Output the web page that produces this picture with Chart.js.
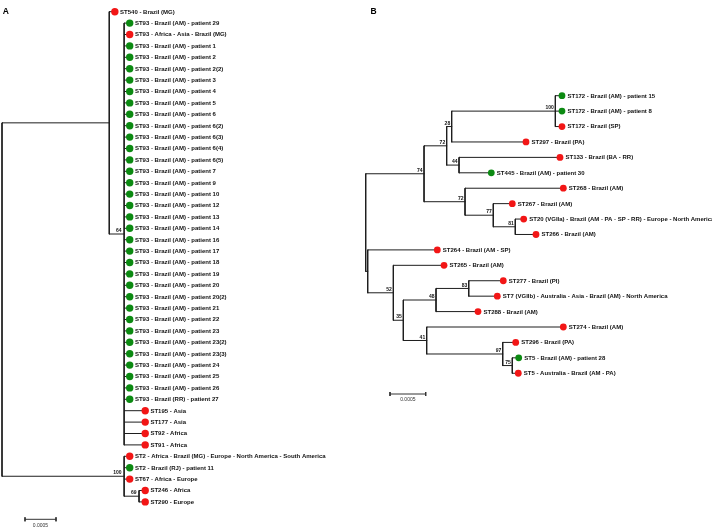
<!DOCTYPE html>
<html>
<head>
<meta charset="utf-8">
<script src="https://cdn.jsdelivr.net/npm/chart.js@4.4.1/dist/chart.umd.min.js"></script>
<style>
  html, body { margin: 0; padding: 0; background: #ffffff; }
  #wrap { position: relative; width: 712px; height: 532px; overflow: hidden; background: #fff; }
  canvas { position: absolute; top: 0; }
</style>
</head>
<body>
<div id="wrap">
  <canvas id="treeA" width="356" height="532" style="left:0px"></canvas>
  <canvas id="treeB" width="356" height="532" style="left:356px"></canvas>
</div>
<script>
// ---------------- DATA : tree A ----------------
const treeALabels = [
  'ST540 - Brazil (MG)',
  'ST93 - Brazil (AM) - patient 29',
  'ST93 - Africa - Asia - Brazil (MG)',
  'ST93 - Brazil (AM) - patient 1',
  'ST93 - Brazil (AM) - patient 2',
  'ST93 - Brazil (AM) - patient 2(2)',
  'ST93 - Brazil (AM) - patient 3',
  'ST93 - Brazil (AM) - patient 4',
  'ST93 - Brazil (AM) - patient 5',
  'ST93 - Brazil (AM) - patient 6',
  'ST93 - Brazil (AM) - patient 6(2)',
  'ST93 - Brazil (AM) - patient 6(3)',
  'ST93 - Brazil (AM) - patient 6(4)',
  'ST93 - Brazil (AM) - patient 6(5)',
  'ST93 - Brazil (AM) - patient 7',
  'ST93 - Brazil (AM) - patient 9',
  'ST93 - Brazil (AM) - patient 10',
  'ST93 - Brazil (AM) - patient 12',
  'ST93 - Brazil (AM) - patient 13',
  'ST93 - Brazil (AM) - patient 14',
  'ST93 - Brazil (AM) - patient 16',
  'ST93 - Brazil (AM) - patient 17',
  'ST93 - Brazil (AM) - patient 18',
  'ST93 - Brazil (AM) - patient 19',
  'ST93 - Brazil (AM) - patient 20',
  'ST93 - Brazil (AM) - patient 20(2)',
  'ST93 - Brazil (AM) - patient 21',
  'ST93 - Brazil (AM) - patient 22',
  'ST93 - Brazil (AM) - patient 23',
  'ST93 - Brazil (AM) - patient 23(2)',
  'ST93 - Brazil (AM) - patient 23(3)',
  'ST93 - Brazil (AM) - patient 24',
  'ST93 - Brazil (AM) - patient 25',
  'ST93 - Brazil (AM) - patient 26',
  'ST93 - Brazil (RR) - patient 27',
  'ST195 - Asia',
  'ST177 - Asia',
  'ST92 - Africa',
  'ST91 - Africa',
  'ST2 - Africa - Brazil (MG) - Europe - North America - South America',
  'ST2 - Brazil (RJ) - patient 11',
  'ST67 - Africa - Europe',
  'ST246 - Africa',
  'ST290 - Europe'
];
// 'P' = patient isolate (green), 'R' = reference isolate (red)
const treeAGroups = [
  'R','P','R','P','P','P','P','P','P','P',
  'P','P','P','P','P','P','P','P','P','P',
  'P','P','P','P','P','P','P','P','P','P',
  'P','P','P','P','P','R','R','R','R','R',
  'P','R','R','R'
];
// cumulative branch length (substitutions/site) from root to each tip
const treeALeafDepth = [
  0.00182,                                                              // 0
  0.00206,0.00206,0.00206,0.00206,0.00206,0.00206,0.00206,0.00206,0.00206,0.00206, // 1-10
  0.00206,0.00206,0.00206,0.00206,0.00206,0.00206,0.00206,0.00206,0.00206,0.00206, // 11-20
  0.00206,0.00206,0.00206,0.00206,0.00206,0.00206,0.00206,0.00206,0.00206,0.00206, // 21-30
  0.00206,0.00206,0.00206,0.00206,                                      // 31-34
  0.00231,0.00231,0.00231,0.00231,                                      // 35-38
  0.00206,0.00206,0.00206,                                              // 39-41
  0.00231,0.00231                                                       // 42-43
];
// internal nodes: depth, children (numbers = tips, 'nK' = internal node K), bootstrap support
const treeANodeDepth = [0, 0.00173, 0.00197, 0.00197, 0.00221];
const treeANodeChildren = [
  ['n1','n2'],
  [0,'n3'],
  [39,40,41,'n4'],
  [1,2,3,4,5,6,7,8,9,10,11,12,13,14,15,16,17,18,19,20,21,22,23,24,25,26,27,28,29,30,31,32,33,34,35,36,37,38],
  [42,43]
];
const treeASupport = [null, null, 100, 64, 69];

// ---------------- DATA : tree B ----------------
const treeBLabels = [
  'ST172 - Brazil (AM) - patient 15',
  'ST172 - Brazil (AM) - patient 8',
  'ST172 - Brazil (SP)',
  'ST297 - Brazil (PA)',
  'ST133 - Brazil (BA - RR)',
  'ST445 - Brazil (AM) - patient 30',
  'ST268 - Brazil (AM)',
  'ST267 - Brazil (AM)',
  'ST20 (VGIIa) - Brazil (AM - PA - SP - RR) - Europe - North America',
  'ST266 - Brazil (AM)',
  'ST264 - Brazil (AM - SP)',
  'ST265 - Brazil (AM)',
  'ST277 - Brazil (PI)',
  'ST7 (VGIIb) - Australia - Asia - Brazil (AM) - North America',
  'ST288 - Brazil (AM)',
  'ST274 - Brazil (AM)',
  'ST296 - Brazil (PA)',
  'ST5 - Brazil (AM) - patient 28',
  'ST5 - Australia - Brazil (AM - PA)'
];
const treeBGroups = ['P','P','R','R','R','P','R','R','R','R','R','R','R','R','R','R','R','P','R'];
const treeBLeafDepth = [
  0.002749, 0.002749, 0.002749, 0.002245, 0.002721, 0.001759, 0.002768,
  0.002053, 0.002213, 0.002385, 0.001003, 0.001097, 0.001927, 0.001843,
  0.001573, 0.002768, 0.002101, 0.002143, 0.002137
];
const treeBNodeDepth = [
  0, 0.000817, 0.001134, 0.001204, 0.002656, 0.001307, 0.001391, 0.001787, 0.002095,
  0.000028, 0.000387, 0.000527, 0.000985, 0.001443, 0.000854, 0.001919, 0.002053
];
const treeBNodeChildren = [
  ['n1','n9'],
  ['n2','n6'],
  ['n3','n5'],
  ['n4',3],
  [0,1,2],
  [4,5],
  [6,'n7'],
  [7,'n8'],
  [8,9],
  [10,'n10'],
  [11,'n11'],
  ['n12','n14'],
  ['n13',14],
  [12,13],
  [15,'n15'],
  [16,'n16'],
  [17,18]
];
const treeBSupport = [null,74,72,28,100,44,72,77,81,null,52,35,48,83,41,97,75];

const scaleBarLength = 0.0005;
const scaleBarLabel = '0.0005';
const panelLetters = ['A', 'B'];

// ---------------- LAYOUT / STYLE ----------------
const FONT = '"Liberation Sans", Arial, Helvetica, sans-serif';
const COLORS = { P: '#0c8a12', R: '#f21616', line: '#1e1e1e', text: '#111111' };
const CANVAS_W = 356, CANVAS_H = 532;
const layoutA = { rootPx: 2, pxPerUnit: 62000, firstLeafPx: 11.7, leafStepPx: 11.4,
  dotRadius: 3.7, labelGap: 5.2, supportDx: 2.5, barLeftPx: 25, barYPx: 519.3,
  letterX: 2.8, letterY: 12 };
const layoutB = { rootPx: 9.7, pxPerUnit: 71400, firstLeafPx: 95.7, leafStepPx: 15.42,
  dotRadius: 3.4, labelGap: 5.5, supportDx: 1.5, barLeftPx: 34, barYPx: 394,
  letterX: 14.5, letterY: 12 };

function buildTree(leafDepth, nodeDepth, nodeChildren) {
  const nodeY = [];
  const yOf = c => {
    if (typeof c === 'number') return c;
    const j = +c.slice(1);
    if (nodeY[j] === undefined) {
      const ch = nodeChildren[j];
      nodeY[j] = (yOf(ch[0]) + yOf(ch[ch.length - 1])) / 2;
    }
    return nodeY[j];
  };
  const xOf = c => typeof c === 'number' ? leafDepth[c] : nodeDepth[+c.slice(1)];
  const segs = [];
  nodeChildren.forEach((ch, j) => {
    const x = nodeDepth[j];
    segs.push([{ x, y: yOf(ch[0]) }, { x, y: yOf(ch[ch.length - 1]) }]);
    ch.forEach(c => segs.push([{ x, y: yOf(c) }, { x: xOf(c), y: yOf(c) }]));
  });
  nodeChildren.forEach((_, j) => yOf('n' + j));
  return { segs, nodeY };
}

function makeTreeChart(canvasId, labels, groups, leafDepth, nodeDepth, nodeChildren, support, L, letter) {
  const { segs, nodeY } = buildTree(leafDepth, nodeDepth, nodeChildren);
  const xMin = -L.rootPx / L.pxPerUnit;
  const xMax = xMin + CANVAS_W / L.pxPerUnit;
  const yMin = -L.firstLeafPx / L.leafStepPx;
  const yMax = yMin + CANVAS_H / L.leafStepPx;

  const barX0 = xMin + L.barLeftPx / L.pxPerUnit;
  const barY = yMin + L.barYPx / L.leafStepPx;
  const tick = 2 / L.leafStepPx;

  const lineDs = segs.map(s => ({
    data: s, showLine: true, pointRadius: 0, borderColor: COLORS.line,
    borderWidth: 1, borderCapStyle: 'square', fill: false, order: 2
  }));
  const barDs = [
    [{ x: barX0, y: barY }, { x: barX0 + scaleBarLength, y: barY }],
    [{ x: barX0, y: barY - tick }, { x: barX0, y: barY + tick }],
    [{ x: barX0 + scaleBarLength, y: barY - tick }, { x: barX0 + scaleBarLength, y: barY + tick }]
  ].map(s => ({ data: s, showLine: true, pointRadius: 0, borderColor: '#333', borderWidth: 1, order: 2 }));

  const dotDs = {
    data: leafDepth.map((d, i) => ({ x: d, y: i })),
    showLine: false,
    pointRadius: L.dotRadius,
    pointBorderWidth: 0,
    pointBackgroundColor: groups.map(g => COLORS[g]),
    pointBorderColor: groups.map(g => COLORS[g]),
    order: 0
  };

  const textPlugin = {
    id: 'treeText_' + canvasId,
    afterDatasetsDraw(chart) {
      const ctx = chart.ctx, xs = chart.scales.x, ys = chart.scales.y;
      ctx.save();
      ctx.fillStyle = COLORS.text;
      // tip labels
      ctx.font = 'bold 6px ' + FONT;
      ctx.textAlign = 'left';
      ctx.textBaseline = 'middle';
      labels.forEach((t, i) => {
        ctx.fillText(t, xs.getPixelForValue(leafDepth[i]) + L.labelGap, ys.getPixelForValue(i) + 0.3);
      });
      // bootstrap support
      ctx.font = 'bold 5px ' + FONT;
      ctx.textAlign = 'right';
      ctx.textBaseline = 'alphabetic';
      support.forEach((s, j) => {
        if (s === null) return;
        ctx.fillText(String(s), xs.getPixelForValue(nodeDepth[j]) - L.supportDx, ys.getPixelForValue(nodeY[j]) - 1.8);
      });
      // scale bar label
      ctx.font = '5px ' + FONT;
      ctx.textAlign = 'center';
      ctx.fillStyle = '#333';
      ctx.fillText(scaleBarLabel, xs.getPixelForValue(barX0 + scaleBarLength / 2), ys.getPixelForValue(barY) + 7.3);
      // panel letter
      ctx.fillStyle = '#000';
      ctx.font = 'bold 8.5px ' + FONT;
      ctx.textAlign = 'left';
      ctx.textBaseline = 'middle';
      ctx.fillText(letter, L.letterX, L.letterY);
      ctx.restore();
    }
  };

  return new Chart(document.getElementById(canvasId), {
    type: 'scatter',
    data: { datasets: [dotDs, ...lineDs, ...barDs] },
    options: {
      responsive: false,
      animation: false,
      events: [],
      layout: { padding: 0, autoPadding: false },
      plugins: { legend: { display: false }, tooltip: { enabled: false } },
      scales: {
        x: { type: 'linear', display: false, min: xMin, max: xMax },
        y: { type: 'linear', display: false, reverse: true, min: yMin, max: yMax }
      }
    },
    plugins: [textPlugin]
  });
}

makeTreeChart('treeA', treeALabels, treeAGroups, treeALeafDepth, treeANodeDepth, treeANodeChildren, treeASupport, layoutA, panelLetters[0]);
makeTreeChart('treeB', treeBLabels, treeBGroups, treeBLeafDepth, treeBNodeDepth, treeBNodeChildren, treeBSupport, layoutB, panelLetters[1]);
</script>
</body>
</html>
